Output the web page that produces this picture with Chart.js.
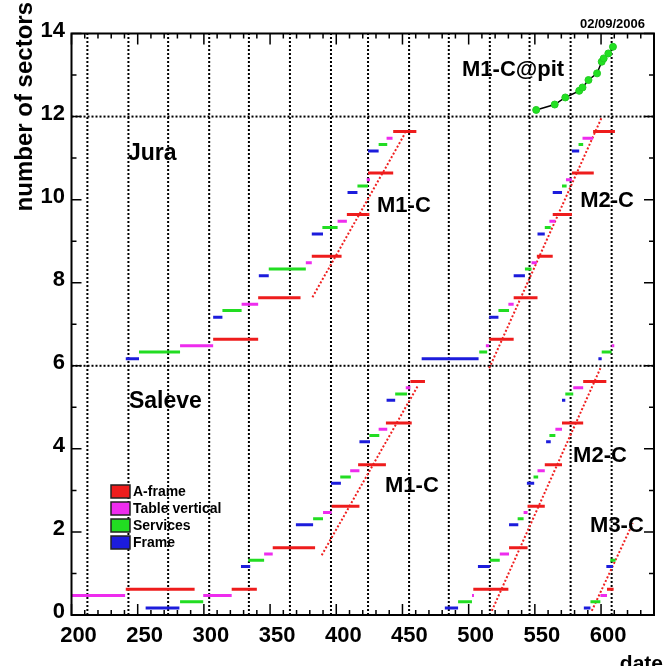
<!DOCTYPE html>
<html><head><meta charset="utf-8">
<script src="https://cdn.jsdelivr.net/npm/chart.js@4/dist/chart.umd.min.js"></script>
<style>html,body{margin:0;padding:0;background:#fff}#wrap{width:670px;height:666px;position:relative}</style>
</head><body><div id="wrap"><canvas id="c" width="670" height="666"></canvas></div>
<script>
// ---- data ----
const xTicks = [200,250,300,350,400,450,500,550,600];
const yTicks = [0,2,4,6,8,10,12,14];
const monthStarts = [212,243,273,304,334,365,396,424,455,485,516,546,577,608];
const regionBounds = [6,12];
const seriesNames = ['A-frame','Table vertical','Services','Frame'];

// [start date, end date, level]
const aFrame = [
  [241,293,0.62],[321,340,0.62],[503.5,530,0.62],[604.5,609.5,0.62],
  [352,384,1.62],[530.5,544.5,1.62],
  [396.5,417.5,2.62],[544.5,557.5,2.62],
  [416.5,437.5,3.62],[557.5,570.5,3.62],
  [437.5,457,4.62],[570.5,586.5,4.62],
  [456,467,5.62],[586.5,604,5.62],
  [307,341,6.64],[515.5,534,6.64],
  [341,373,7.64],[534,552,7.64],
  [381.5,404,8.64],[551.5,563.5,8.64],
  [408,425,9.64],[563.5,578,9.64],
  [424,443,10.64],[578,594.5,10.64],
  [443,460.5,11.64],[594,610.5,11.64]
];
const tableVertical = [
  [200,240.5,0.47],[299.5,321,0.47],[502.5,504,0.47],[599.5,604.5,0.47],
  [345.5,352,1.47],[523.5,530.5,1.47],
  [390,396.5,2.47],[541.5,544.5,2.47],
  [410.5,417.5,3.47],[552,557.5,3.47],
  [432,438.5,4.47],[565.5,570.5,4.47],
  [452.5,456,5.47],[579,586.5,5.47],
  [282,307,6.48],[513,515.5,6.48],[608,610,6.48],
  [328.5,341,7.48],[530,534,7.48],
  [377,381.5,8.48],[547.5,551.5,8.48],
  [401,408,9.48],[561,565.5,9.48],
  [423,425.5,10.48],[573.5,578,10.48],
  [438,442.5,11.48],[586,594,11.48]
];
const services = [
  [282,299.5,0.32],[492,502.5,0.32],[592,599.5,0.32],
  [333.5,345.5,1.32],[516,523.5,1.32],[607,611,1.32],
  [382.5,390,2.32],[537,541.5,2.32],
  [403,411,3.32],[549,552.5,3.32],
  [425,432.5,4.32],[561,565.5,4.32],
  [444.5,453.5,5.32],[573,579,5.32],
  [251,282,6.33],[508,514,6.33],[600.5,608,6.33],
  [314,328.5,7.33],[522.5,530.5,7.33],
  [349,377,8.33],[542.5,547.5,8.33],
  [389.5,401,9.33],[557.5,562,9.33],
  [416,424,10.33],[570.5,574,10.33],
  [432,438.5,11.33],[583,586.5,11.33]
];
const frame = [
  [256,281.5,0.17],[482,492,0.17],[587,592,0.17],
  [328,335,1.17],[507,516,1.17],[604,609,1.17],
  [369.5,382.5,2.17],[530.5,537.5,2.17],
  [396,403.5,3.17],[544,549.5,3.17],
  [417.5,425.5,4.17],[558.5,562,4.17],
  [438,444.5,5.17],[570.5,573,5.17],
  [241,251,6.17],[464.5,507.5,6.17],[598,600.5,6.17],
  [307,314,7.17],[515.5,522.5,7.17],
  [341.5,349,8.17],[534,542.5,8.17],
  [381.5,390,9.17],[552,557.5,9.17],
  [408.5,416,10.17],[563.5,570.5,10.17],
  [424,432,11.17],[578,583.5,11.17]
];
// trend lines [x1, y1, x2, y2]
const trendLines = [
  [389,1.44,462,5.54],
  [382,7.65,452,11.6],
  [517.5,0.1,599.5,5.94],
  [515.5,5.94,600.5,11.98],
  [593,0.1,624,2.21]
];
const pitDates   = [551,565,573,583.5,586,590.5,597,600.5,602,605.5,609];
const pitSectors = [12.16,12.29,12.46,12.62,12.7,12.88,13.04,13.32,13.4,13.52,13.68];
const regionLabels = ['Jura','Saleve'];
const moduleLabels = ['M1-C','M1-C','M2-C','M2-C','M3-C','M1-C@pit'];

// ---- build ----
const colors = ['#ee1c1c','#ee2cee','#22dd22','#1c1cdc'];
function segs(list){ const out=[]; list.forEach(([s,e,l])=>{ out.push({x:s,y:l},{x:e,y:l},{x:e,y:null}); }); return out; }
function lines(list){ const out=[]; list.forEach(([a,b,c,d])=>{ out.push({x:a,y:b},{x:c,y:d},{x:c,y:null}); }); return out; }
const segBase = {type:'line',pointRadius:0,borderWidth:3,tension:0,spanGaps:false,borderCapStyle:'butt',fill:false};
const datasets = [
  Object.assign({label:seriesNames[3],data:segs(frame),borderColor:colors[3]},segBase),
  Object.assign({label:seriesNames[2],data:segs(services),borderColor:colors[2]},segBase),
  Object.assign({label:seriesNames[1],data:segs(tableVertical),borderColor:colors[1]},segBase),
  Object.assign({label:seriesNames[0],data:segs(aFrame),borderColor:colors[0]},segBase),
  {type:'line',label:'trend',data:lines(trendLines),borderColor:'#f02020',borderWidth:2,borderDash:[2,2],pointRadius:0,tension:0,spanGaps:false},
  {type:'line',label:'M1-C@pit',data:pitDates.map((d,i)=>({x:d,y:pitSectors[i]})),borderColor:'#000',borderWidth:1.5,
   pointRadius:3.5,pointBackgroundColor:'#22e022',pointBorderColor:'#22cc22',pointBorderWidth:1,tension:0}
];

const FONT = '"Liberation Sans", Arial, Helvetica, sans-serif';
const decor = {
  id:'decor',
  beforeDatasetsDraw(chart){
    const {ctx, chartArea:a, scales:{x,y}} = chart;
    ctx.save();
    ctx.strokeStyle='#000'; ctx.lineWidth=2; ctx.setLineDash([2,2]);
    monthStarts.forEach(d=>{ const px=x.getPixelForValue(d); ctx.beginPath(); ctx.moveTo(px,a.bottom); ctx.lineTo(px,a.top); ctx.stroke(); });
    regionBounds.forEach(v=>{ const py=y.getPixelForValue(v); ctx.beginPath(); ctx.moveTo(a.left,py); ctx.lineTo(a.right,py); ctx.stroke(); });
    ctx.restore();
  },
  afterDraw(chart){
    const {ctx, chartArea:a, scales:{x,y}} = chart;
    ctx.save();
    ctx.setLineDash([]);
    ctx.strokeStyle='#000'; ctx.lineWidth=2;
    ctx.strokeRect(a.left,a.top,a.right-a.left,a.bottom-a.top);
    ctx.lineWidth=1.5;
    for(let v=200; v<=640; v+=10){
      const px=x.getPixelForValue(v); const L = (v%50===0)?11:5;
      ctx.beginPath(); ctx.moveTo(px,a.bottom); ctx.lineTo(px,a.bottom-L); ctx.moveTo(px,a.top); ctx.lineTo(px,a.top+L); ctx.stroke();
    }
    for(let v=0; v<=14; v+=1){
      const py=y.getPixelForValue(v); const L=(v%2===0)?10:5;
      ctx.beginPath(); ctx.moveTo(a.left,py); ctx.lineTo(a.left+L,py); ctx.moveTo(a.right,py); ctx.lineTo(a.right-L,py); ctx.stroke();
    }
    ctx.fillStyle='#000';
    // region and module labels
    ctx.font='bold 23px '+FONT; ctx.textAlign='left'; ctx.textBaseline='alphabetic';
    ctx.fillText(regionLabels[0], x.getPixelForValue(242.7), y.getPixelForValue(10.95));
    ctx.fillText(regionLabels[1], x.getPixelForValue(243.4), y.getPixelForValue(4.98));
    ctx.font='bold 22px '+FONT;
    ctx.fillText(moduleLabels[0], x.getPixelForValue(430.8), y.getPixelForValue(9.71));
    ctx.fillText(moduleLabels[1], x.getPixelForValue(436.8), y.getPixelForValue(2.96));
    ctx.fillText(moduleLabels[2], x.getPixelForValue(584.2), y.getPixelForValue(9.82));
    ctx.fillText(moduleLabels[3], x.getPixelForValue(578.9), y.getPixelForValue(3.68));
    ctx.fillText(moduleLabels[4], x.getPixelForValue(591.7), y.getPixelForValue(2.0));
    ctx.fillText(moduleLabels[5], x.getPixelForValue(495), y.getPixelForValue(12.98));
    // date stamp
    ctx.font='bold 13px '+FONT; ctx.textAlign='right';
    ctx.fillText('02/09/2006', a.right-9, a.top-5.5);
    // axis titles
    ctx.font='bold 21px '+FONT; ctx.textAlign='right';
    ctx.fillText('date', a.right+9, 670);
    ctx.save();
    ctx.translate(32,2); ctx.rotate(-Math.PI/2);
    ctx.font='bold 24px '+FONT; ctx.textAlign='right'; ctx.textBaseline='alphabetic';
    ctx.fillText('number of sectors',0,0);
    ctx.restore();
    // legend
    ctx.font='bold 14px '+FONT; ctx.textAlign='left'; ctx.textBaseline='middle';
    seriesNames.forEach((n,i)=>{
      const bx=a.left+39.5, by=a.top+451.5+i*17;
      ctx.fillStyle=colors[i]; ctx.fillRect(bx,by,19,13);
      ctx.strokeStyle='#222'; ctx.lineWidth=1.5; ctx.strokeRect(bx,by,19,13);
      ctx.fillStyle='#000'; ctx.fillText(n,bx+22,by+7);
    });
    ctx.restore();
  }
};

new Chart(document.getElementById('c'),{
  type:'line',
  data:{datasets},
  options:{
    responsive:false, animation:false, devicePixelRatio:1,
    layout:{padding:{left:0,right:16,top:33.5,bottom:0}},
    plugins:{legend:{display:false},tooltip:{enabled:false}},
    scales:{
      x:{type:'linear',min:200,max:640,
         afterBuildTicks:s=>{s.ticks=xTicks.map(v=>({value:v}));},
         afterFit:s=>{s.height=51;},
         grid:{display:false,drawTicks:false},border:{display:false},
         ticks:{color:'#000',font:{family:FONT,weight:'bold',size:22},padding:8,labelOffset:7,maxRotation:0,autoSkip:false}},
      y:{type:'linear',min:0,max:14,
         afterBuildTicks:s=>{s.ticks=yTicks.map(v=>({value:v}));},
         afterFit:s=>{s.width=71.5;},
         grid:{display:false,drawTicks:false},border:{display:false},
         ticks:{color:'#000',font:{family:FONT,weight:'bold',size:22},padding:6.5,labelOffset:-3,autoSkip:false}}
    }
  },
  plugins:[decor]
});
</script></body></html>
